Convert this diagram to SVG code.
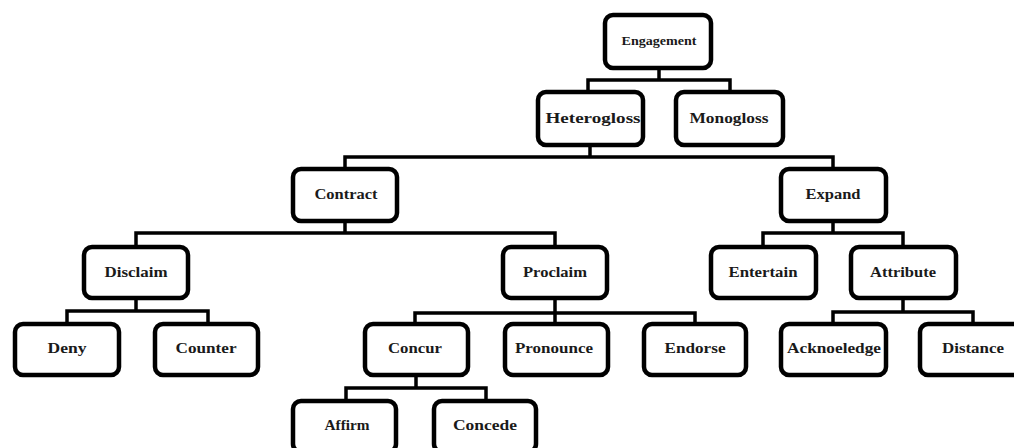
<svg xmlns="http://www.w3.org/2000/svg" width="1014" height="448" viewBox="0 0 1014 448">
<style>
.box{fill:#fff;stroke:#000;stroke-width:4.5}
.lbl{font-family:"Liberation Serif","Times New Roman",serif;font-weight:bold;font-size:14px;fill:#1a1a1a;text-anchor:middle}
.sm{font-size:12px}
.con{fill:none;stroke:#000;stroke-width:3.5;stroke-linecap:square}
</style>
<rect width="1014" height="448" fill="#fff"/>
<g id="connectors" class="con">
<path d="M659,70 V80 M588,80 H730 M588,80 V90 M730,80 V90"/>
<path d="M590,147 V157 M345,157 H833 M345,157 V167 M833,157 V167"/>
<path d="M345,223 V233 M136,233 H555 M136,233 V245 M555,233 V245"/>
<path d="M833,223 V233 M763,233 H903 M763,233 V245 M903,233 V245"/>
<path d="M136,300 V311 M67,311 H208 M67,311 V322 M208,311 V322"/>
<path d="M555,300 V313 M415,313 H695 M415,313 V322 M555,313 V322 M695,313 V322"/>
<path d="M903,300 V312 M833,312 H973 M833,312 V322 M973,312 V322"/>
<path d="M416,377 V388 M346,388 H486 M346,388 V399 M486,388 V399"/>
</g>
<g id="engagement"><rect class="box" x="605" y="15" width="106" height="53" rx="8"/><text class="lbl sm" x="659" y="45" textLength="75" lengthAdjust="spacingAndGlyphs">Engagement</text></g>
<g id="heterogloss"><rect class="box" x="538" y="92" width="105" height="53" rx="8"/><text class="lbl" x="593" y="123" textLength="95" lengthAdjust="spacingAndGlyphs">Heterogloss</text></g>
<g id="monogloss"><rect class="box" x="676" y="92" width="107" height="53" rx="8"/><text class="lbl" x="729" y="123" textLength="79" lengthAdjust="spacingAndGlyphs">Monogloss</text></g>
<g id="contract"><rect class="box" x="293" y="169" width="104" height="52" rx="8"/><text class="lbl" x="346" y="199" textLength="63" lengthAdjust="spacingAndGlyphs">Contract</text></g>
<g id="expand"><rect class="box" x="781" y="169" width="105" height="52" rx="8"/><text class="lbl" x="833" y="199" textLength="55" lengthAdjust="spacingAndGlyphs">Expand</text></g>
<g id="disclaim"><rect class="box" x="84" y="247" width="104" height="51" rx="8"/><text class="lbl" x="136" y="277" textLength="63" lengthAdjust="spacingAndGlyphs">Disclaim</text></g>
<g id="proclaim"><rect class="box" x="503" y="247" width="104" height="51" rx="8"/><text class="lbl" x="555" y="277" textLength="64" lengthAdjust="spacingAndGlyphs">Proclaim</text></g>
<g id="entertain"><rect class="box" x="711" y="247" width="105" height="51" rx="8"/><text class="lbl" x="763" y="277" textLength="69" lengthAdjust="spacingAndGlyphs">Entertain</text></g>
<g id="attribute"><rect class="box" x="851" y="247" width="105" height="51" rx="8"/><text class="lbl" x="903" y="277" textLength="66" lengthAdjust="spacingAndGlyphs">Attribute</text></g>
<g id="deny"><rect class="box" x="15" y="324" width="104" height="51" rx="8"/><text class="lbl" x="67" y="353" textLength="39" lengthAdjust="spacingAndGlyphs">Deny</text></g>
<g id="counter"><rect class="box" x="155" y="324" width="103" height="51" rx="8"/><text class="lbl" x="206" y="353" textLength="61" lengthAdjust="spacingAndGlyphs">Counter</text></g>
<g id="concur"><rect class="box" x="365" y="324" width="103" height="51" rx="8"/><text class="lbl" x="415" y="353" textLength="54" lengthAdjust="spacingAndGlyphs">Concur</text></g>
<g id="pronounce"><rect class="box" x="505" y="324" width="103" height="51" rx="8"/><text class="lbl" x="554" y="353" textLength="78" lengthAdjust="spacingAndGlyphs">Pronounce</text></g>
<g id="endorse"><rect class="box" x="644" y="324" width="102" height="51" rx="8"/><text class="lbl" x="695" y="353" textLength="61" lengthAdjust="spacingAndGlyphs">Endorse</text></g>
<g id="acknoeledge"><rect class="box" x="781" y="324" width="105" height="51" rx="8"/><text class="lbl" x="834" y="353" textLength="94" lengthAdjust="spacingAndGlyphs">Acknoeledge</text></g>
<g id="distance"><rect class="box" x="920" y="324" width="105" height="51" rx="8"/><text class="lbl" x="973" y="353" textLength="62" lengthAdjust="spacingAndGlyphs">Distance</text></g>
<g id="affirm"><rect class="box" x="293" y="401" width="103" height="51" rx="8"/><text class="lbl" x="347" y="430" textLength="45" lengthAdjust="spacingAndGlyphs">Affirm</text></g>
<g id="concede"><rect class="box" x="434" y="401" width="102" height="51" rx="8"/><text class="lbl" x="485" y="430" textLength="64" lengthAdjust="spacingAndGlyphs">Concede</text></g>
</svg>
